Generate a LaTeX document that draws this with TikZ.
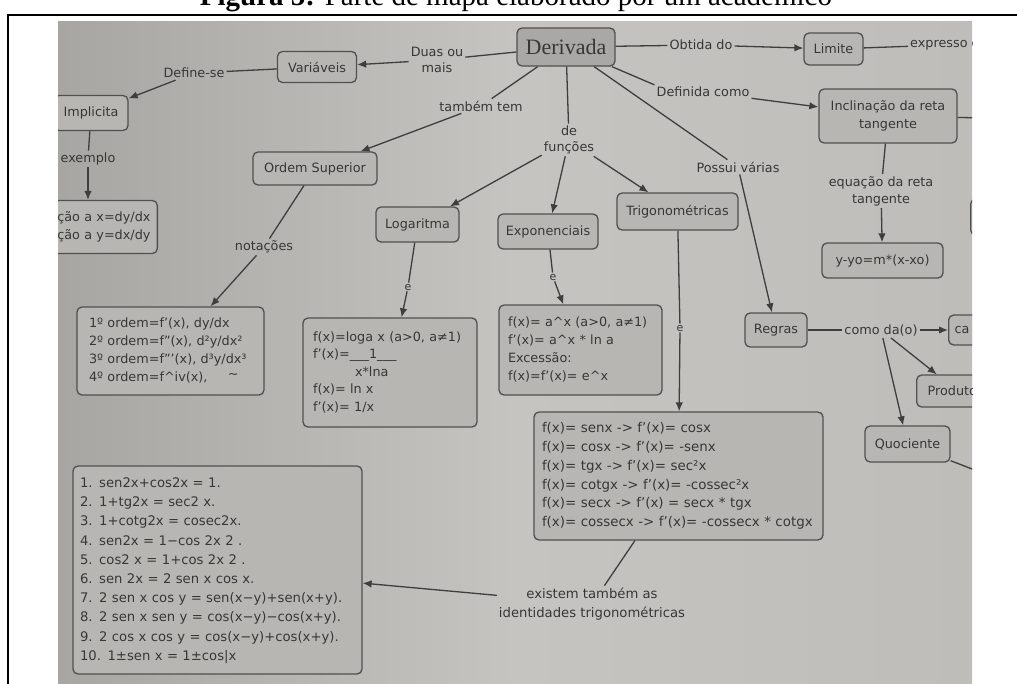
\documentclass[tikz,border=0pt]{standalone}
\usepackage{fontspec}
\setmainfont{DejaVu Sans}
\newfontfamily\serifT{Liberation Serif}
\usetikzlibrary{arrows.meta,calc}
\definecolor{bgL}{RGB}{168,166,163}
\definecolor{bgM}{RGB}{198,196,193}
\definecolor{bgR}{RGB}{191,189,186}
\definecolor{boxfill}{RGB}{184,182,179}
\definecolor{derivfill}{RGB}{170,168,165}
\definecolor{edgecol}{RGB}{80,80,80}
\definecolor{ink}{RGB}{55,55,55}
\definecolor{wirecol}{RGB}{62,62,62}
\newcommand{\mylines}[1]{\begin{tabular}{@{}l@{}}#1\end{tabular}}
\tikzset{
  box/.style={draw=edgecol, line width=1.3pt, rounded corners=5pt, fill=boxfill, text=ink,
    font=\fontsize{12.8}{16}\selectfont, inner xsep=6pt, inner ysep=3pt},
  listbox/.style={box, align=left, inner ysep=0pt},
  lbl/.style={text=ink, font=\fontsize{12.8}{16}\selectfont, inner sep=2pt, align=center},
  smalllbl/.style={lbl, font=\fontsize{11}{13}\selectfont, inner sep=1pt},
  wire/.style={draw=wirecol, line width=1.3pt},
  arr/.style={wire, -{Latex[length=9pt,width=7.5pt]}},
}
\begin{document}
\begin{tikzpicture}[x=1pt,y=-1pt]
\useasboundingbox (0,0) rectangle (1017,683);
\node[anchor=base, font=\serifT\fontsize{29}{32}\selectfont] (title) at (516,5)
  {\textbf{Figura 5:} Parte de mapa elaborado por um acadêmico};
\coordinate (fb) at (8,683);
\coordinate (fc) at (8,15);
\coordinate (fr) at (1017,15);
\draw[line width=2.5pt, line cap=rect] (fb) -- (fc) -- (fr);

\begin{scope}
\clip (58,21) rectangle (972,683);
\shade[left color=bgL, right color=bgR, middle color=bgM] (58,21) rectangle (972,683);

% nodes
\node[box, fill=derivfill, minimum width=98pt, minimum height=38pt,
      font=\serifT\fontsize{22}{24}\selectfont] (deriv) at (566,47) {Derivada};
\node[box, minimum width=79pt, minimum height=31pt] (varia) at (317,67) {Variáveis};
\node[lbl] (duas) at (437,60) {Duas ou\\mais};
\node[lbl] (define) at (194,73) {Define-se};
\node[box, minimum width=74pt, minimum height=35pt] (impl) at (91,113) {Implicita};
\node[lbl] (exemplo) at (88,159) {exemplo};
\node[listbox, anchor=east, text width=93pt, inner xsep=7pt, minimum height=53pt,
      font=\fontsize{12.8}{18}\selectfont] (implbox) at (158,227)
  {\mylines{ção a x=dy/dx\\ção a y=dx/dy}};

\node[lbl] (tambem) at (481,106) {também tem};
\node[box, minimum width=124pt, minimum height=33pt] (ordsup) at (315,168.5) {Ordem Superior};
\node[lbl] (notacoes) at (264,247) {notações};
\node[listbox, text width=163pt, inner xsep=12pt, minimum height=88pt,
      font=\fontsize{12.8}{17.7}\selectfont] (ordbox) at (170.5,351)
  {\mylines{1º ordem=f'(x), dy/dx\\2º ordem=f''(x), d²y/dx²\\3º ordem=f'''(x), d³y/dx³\\4º ordem=f\textasciicircum iv(x),\hspace{1.6em}\raisebox{3pt}{\textasciitilde}}};

\node[lbl] (defunc) at (569,140) {de\\funções};
\node[box, minimum width=83pt, minimum height=35pt] (loga) at (417.5,224.5) {Logaritma};
\node[box, minimum width=100pt, minimum height=35pt] (expo) at (548,231.5) {Exponenciais};
\node[box, minimum width=121pt, minimum height=37pt] (trigo) at (677.5,211.5) {Trigonométricas};
\node[smalllbl] (e1) at (408,287) {e};
\node[smalllbl] (e2) at (553,277) {e};
\node[smalllbl] (e3) at (680,328) {e};

\node[listbox, text width=154pt, inner xsep=10pt, minimum height=109pt,
      font=\fontsize{12.8}{17.5}\selectfont] (logbox) at (390,372.5)
  {\mylines{f(x)=loga x (a>0, a≠1)\\f'(x)=\_\_\_1\_\_\_\\\hspace*{42pt}x*lna\\f(x)= ln x\\f'(x)= 1/x}};
\node[listbox, text width=145pt, inner xsep=9pt, minimum height=90pt,
      font=\fontsize{12.8}{18}\selectfont] (expbox) at (580.5,350)
  {\mylines{f(x)= a\textasciicircum x (a>0, a≠1)\\f'(x)= a\textasciicircum x * ln a\\Excessão:\\f(x)=f'(x)= e\textasciicircum x}};
\node[listbox, text width=273pt, inner xsep=8pt, minimum height=128pt,
      font=\fontsize{13.4}{18.8}\selectfont] (trigbox) at (678.5,476)
  {\mylines{f(x)= senx -> f'(x)= cosx\\f(x)= cosx -> f'(x)= -senx\\f(x)= tgx -> f'(x)= sec²x\\f(x)= cotgx -> f'(x)= -cossec²x\\f(x)= secx -> f'(x) = secx * tgx\\f(x)= cossecx -> f'(x)= -cossecx * cotgx}};
\node[lbl, font=\fontsize{13.2}{19}\selectfont] (ident) at (592,604)
  {existem também as\\identidades trigonométricas};
\node[listbox, text width=275pt, inner xsep=7pt, minimum height=208pt,
      font=\fontsize{13.2}{19.2}\selectfont] (identbox) at (217.5,570)
  {\mylines{1. sen2x+cos2x = 1.\\2. 1+tg2x = sec2 x.\\3. 1+cotg2x = cosec2x.\\4. sen2x = 1−cos 2x 2 .\\5. cos2 x = 1+cos 2x 2 .\\6. sen 2x = 2 sen x cos x.\\7. 2 sen x cos y = sen(x−y)+sen(x+y).\\8. 2 sen x sen y = cos(x−y)−cos(x+y).\\9. 2 cos x cos y = cos(x−y)+cos(x+y).\\10. 1±sen x = 1±cos|x}};

\node[lbl] (obtida) at (701,45) {Obtida do};
\node[box, minimum width=59pt, minimum height=32pt] (limite) at (833.5,49) {Limite};
\node[lbl, anchor=west] (expresso) at (908,45) {expresso c};
\node[lbl] (definida) at (703,92) {Definida como};
\node[box, minimum width=138pt, minimum height=54pt, align=center,
      font=\fontsize{12.8}{18}\selectfont] (incl) at (888,116) {Inclinação da reta\\tangente};
\node[lbl, font=\fontsize{12.8}{17}\selectfont] (equacao) at (881,191) {equação da reta\\tangente};
\node[box, minimum width=121pt, minimum height=35pt] (yyo) at (882.5,260.5) {y-yo=m*(x-xo)};
\node[box, anchor=west, minimum width=40pt, minimum height=36pt] (rightbox) at (970,217) {};
\node[lbl] (possui) at (738,167) {Possui várias};
\node[box, minimum width=62pt, minimum height=34pt] (regras) at (776,330) {Regras};
\node[lbl] (como) at (881,330) {como da(o)};
\node[box, anchor=west, text width=30pt, inner xsep=6pt, minimum height=30pt] (cabox) at (948,330) {ca};
\node[box, anchor=west, text width=60pt, inner xsep=11pt, minimum height=32pt] (produto) at (916,391) {Produto};
\node[box, minimum width=85pt, minimum height=36pt] (quoc) at (907.5,444) {Quociente};
\coordinate (inclR) at (985,118);
\coordinate (quocR) at (985,474);

% connectors
\draw[wire] (deriv) -- (duas);
\draw[arr] (duas) -- (varia);
\draw[wire] (varia) -- (define);
\draw[arr] (define) -- (impl);
\draw[wire] (impl) -- (exemplo);
\draw[arr] (exemplo) -- (exemplo |- implbox.north);
\draw[wire] (deriv) -- (tambem);
\draw[arr] (tambem) -- (ordsup);
\draw[wire] (ordsup) -- (notacoes);
\draw[arr] (notacoes) -- (ordbox);
\draw[wire] (deriv) -- (defunc);
\draw[arr] (defunc) -- (loga);
\draw[arr] (defunc) -- (expo);
\draw[arr] (defunc) -- (trigo);
\draw[wire] (loga) -- (e1);
\draw[arr] (e1) -- (logbox);
\draw[wire] (expo) -- (e2);
\draw[arr] (e2) -- (expbox);
\draw[wire] (trigo) -- (e3);
\draw[arr] (e3) -- (trigbox);
\draw[wire] (trigbox) -- (ident);
\draw[arr] (ident) -- (identbox);
\draw[wire] (deriv) -- (obtida);
\draw[arr] (obtida) -- (limite);
\draw[wire] (limite) -- (expresso);
\draw[wire] (deriv) -- (definida.north west);
\draw[arr] (definida) -- (incl);
\draw[wire] (incl) -- (inclR);
\draw[wire] (incl) -- (equacao);
\draw[arr] (equacao) -- (yyo);
\draw[wire] (deriv) -- (possui);
\draw[arr] (possui) -- (regras);
\draw[wire] (regras) -- (como);
\draw[arr] (como) -- (cabox);
\draw[arr] (como) -- (produto);
\draw[arr] (como) -- (quoc);
\draw[wire] (quoc) -- (quocR);
\end{scope}
\end{tikzpicture}
\end{document}
